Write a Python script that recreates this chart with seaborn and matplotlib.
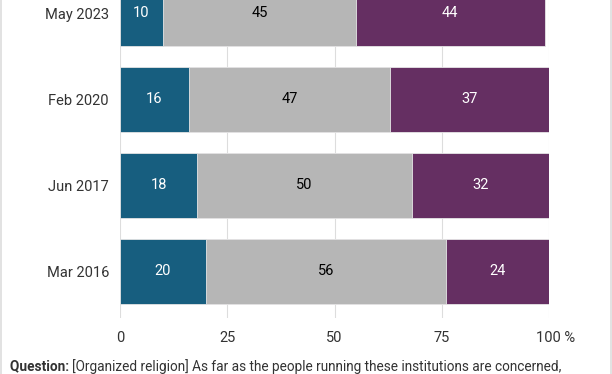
import matplotlib
matplotlib.use("Agg")
import matplotlib.pyplot as plt
import matplotlib.transforms as mtrans
import seaborn as sns
import numpy as np
import pandas as pd
from matplotlib.lines import Line2D

dates = ["May 2023", "Feb 2020", "Jun 2017", "Mar 2016"]
low = [10, 16, 18, 20]
mid = [45, 47, 50, 56]
high = [44, 37, 32, 24]
xticks = [0, 25, 50, 75, 100]
xticklabels = ["0", "25", "50", "75", "100 %"]
question_bold = "Question:"
question_text = "[Organized religion] As far as the people running these institutions are concerned,"

c_low, c_mid, c_high = "#175e7f", "#b6b6b6", "#652f62"

sns.set_theme(style="white")
plt.rcParams["font.family"] = ["Roboto", "DejaVu Sans"]
FS = 10.5
QFS = 9.8

W, H = 612, 374
fig = plt.figure(figsize=(W / 100, H / 100), dpi=100)
ax_left, ax_right, ax_top, ax_bottom = 120, 549, 0, 318
ax = fig.add_axes([ax_left / W, 1 - ax_bottom / H, (ax_right - ax_left) / W, (ax_bottom - ax_top) / H])

df = pd.DataFrame({"date": dates, "low": low, "mid": mid, "high": high})
df["c1"] = df["low"]
df["c2"] = df["low"] + df["mid"]
df["c3"] = df["c2"] + df["high"]

bw = 0.756
kw = dict(orient="h", order=dates, width=bw, edgecolor="#e6e6e6", linewidth=0.6, ax=ax, zorder=3)
sns.barplot(data=df, x="c3", y="date", color=c_high, saturation=1, **kw)
sns.barplot(data=df, x="c2", y="date", color=c_mid, saturation=1, **kw)
sns.barplot(data=df, x="c1", y="date", color=c_low, saturation=1, **kw)

for i, r in df.iterrows():
    ax.text(r["low"] / 2, i, str(r["low"]), ha="center", va="center", color="white", fontsize=FS, zorder=5)
    ax.text(r["low"] + r["mid"] / 2, i, str(r["mid"]), ha="center", va="center", color="black", fontsize=FS, zorder=5)
    ax.text(r["c2"] + r["high"] / 2, i, str(r["high"]), ha="center", va="center", color="white", fontsize=FS, zorder=5)

ax.set_xlim(0, 100)
ax.set_ylim(3 + (318 - 271.5) / 86, 0 - 13 / 86)
ax.set_xticks(xticks)
ax.set_xticklabels(xticklabels, fontsize=FS, color="#333333")
ax.tick_params(axis="x", length=0, pad=9)
ax.tick_params(axis="y", length=0, pad=8, labelsize=FS, labelcolor="#333333")
# shift "100 %" so that the number is centred on its tick
lab = ax.get_xticklabels()[-1]
lab.set_transform(lab.get_transform() + mtrans.ScaledTranslation(6.5 / 100, 0, fig.dpi_scale_trans))
ax.set_xlabel("")
ax.set_ylabel("")
for s in ax.spines.values():
    s.set_visible(False)
ax.grid(axis="x", color="#dddddd", linewidth=0.8, zorder=0)
ax.set_axisbelow(True)

# question text (at the bottom edge)
ybase = 1 - 370.5 / H
t = fig.text(10 / W, ybase, question_bold + " ", fontsize=QFS, fontweight="bold", color="#333333", ha="left", va="baseline")
fig.canvas.draw()
bb = t.get_window_extent()
fig.text(bb.x1 / W, ybase, question_text, fontsize=QFS, color="#333333", ha="left", va="baseline")

# light border lines on left and right
fig.add_artist(Line2D([0.5 / W, 0.5 / W], [0, 1], color="#dddddd", lw=1.2, transform=fig.transFigure))
fig.add_artist(Line2D([1 - 0.8 / W, 1 - 0.8 / W], [0, 1], color="#dddddd", lw=1.2, transform=fig.transFigure))

fig.savefig("out.png", dpi=100)
